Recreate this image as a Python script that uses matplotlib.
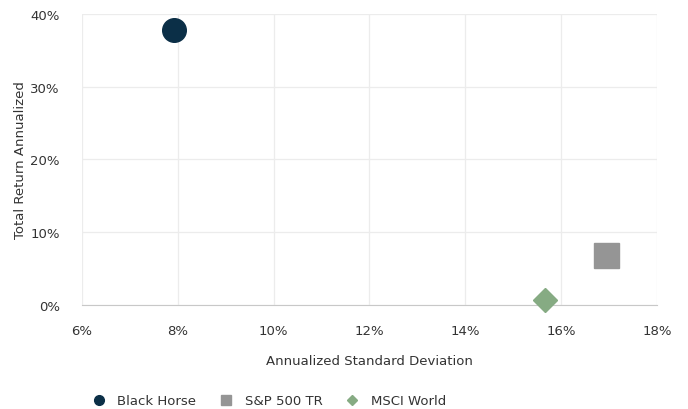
import matplotlib.pyplot as plt
from matplotlib.ticker import FuncFormatter

names = ["Black Horse", "S&P 500 TR", "MSCI World"]
std_dev = [7.92, 16.94, 15.67]
returns = [37.8, 6.9, 0.7]
colors = ["#0b2f47", "#959595", "#86ab83"]
markers = ["o", "s", "D"]
sizes = [17, 18, 12]

plt.rcParams["font.family"] = ["DejaVu Sans"]
plt.rcParams["font.size"] = 9.5

fig = plt.figure(figsize=(6.88, 4.10), dpi=100)
ax = fig.add_axes([0.119, 0.2537, 0.836, 0.7097])

handles = []
for n, x, y, c, m, s in zip(names, std_dev, returns, colors, markers, sizes):
    ax.plot([x], [y], linestyle="none", marker=m, markersize=s, color=c, clip_on=False, zorder=3)
    h, = plt.plot([], [], linestyle="none", marker=m, color=c,
                  markersize=7 if m != "D" else 5, label=n)
    handles.append(h)

ax.set_xlim(6, 18)
ax.set_ylim(0, 40)
ax.set_xticks(range(6, 19, 2))
ax.set_yticks(range(0, 41, 10))
pct = FuncFormatter(lambda v, p: "%d%%" % v)
ax.xaxis.set_major_formatter(pct)
ax.yaxis.set_major_formatter(pct)
ax.grid(True, color="#ececec", linewidth=0.9)
ax.set_axisbelow(True)
for side in ["top", "right", "left"]:
    ax.spines[side].set_visible(False)
ax.spines["bottom"].set_color("#c8c8c8")
ax.tick_params(length=0, colors="#333333", labelsize=9.5)
ax.tick_params(axis="x", pad=14)
ax.tick_params(axis="y", pad=16)

ax.set_xlabel("Annualized Standard Deviation", color="#333333", labelpad=12)
ax.set_ylabel("Total Return Annualized", color="#333333", labelpad=2)

fig.legend(handles=handles, loc="lower left", bbox_to_anchor=(0.117, -0.025), ncol=3,
           frameon=False, handletextpad=0.9, columnspacing=1.75, handlelength=1.0,
           labelcolor="#333333")

fig.savefig("out.png", dpi=100)
